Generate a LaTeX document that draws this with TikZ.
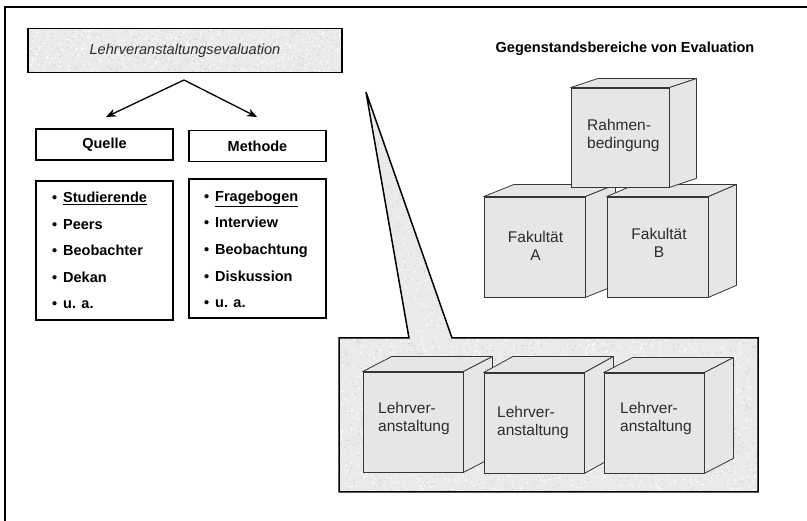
\documentclass[tikz,border=0pt]{standalone}
\usepackage{fontspec}
\setmainfont{Liberation Sans}
\usetikzlibrary{arrows.meta}

\definecolor{granite}{HTML}{EAEAEA}
\definecolor{speckdark}{HTML}{D0D0D0}
\definecolor{cubefill}{HTML}{E6E6E6}
\definecolor{cubeline}{HTML}{363636}
\definecolor{softtext}{HTML}{2C2C2C}

% granite-like mottling inside the current clip: x0, y0, width, height, count
\newcommand\speckles[5]{%
  \foreach \k in {1,...,#5}{%
    \fill[speckdark] ({#1+#3*rnd},{#2+#4*rnd}) circle (0.7);
    \fill[white] ({#1+#3*rnd},{#2+#4*rnd}) circle (0.9);
  }}

% top and right faces of a box whose front face is node #1, depth (#2,#3)
\newcommand\cubefaces[3]{%
  \filldraw[cubeside] (#1.north west) -- ([shift={(#2,#3)}]#1.north west)
    -- ([shift={(#2,#3)}]#1.north east) -- (#1.north east) -- cycle;
  \filldraw[cubeside] (#1.north east) -- ([shift={(#2,#3)}]#1.north east)
    -- ([shift={(#2,#3)}]#1.south east) -- (#1.south east) -- cycle;
}

\tikzset{
  frameline/.style={line width=2pt},
  boxline/.style={draw, line width=1.3pt},
  boldtext/.style={font=\fontsize{14.5}{16}\selectfont\bfseries},
  titlebox/.style={boxline, minimum width=314pt, minimum height=44pt, inner sep=0pt,
    text=softtext, font=\fontsize{14.6}{16}\selectfont\itshape},
  labelbox/.style={boxline, boldtext, minimum width=137pt, minimum height=31pt, inner sep=0pt},
  listbox/.style={boxline, minimum width=137pt, minimum height=139pt, inner sep=0pt},
  listitem/.style={boldtext, anchor=base west, inner sep=0pt},
  cubefront/.style={draw=cubeline, fill=cubefill, line width=0.8pt, inner sep=0pt},
  cubeside/.style={draw=cubeline, fill=cubefill, line width=0.8pt, line join=round},
  cubetext/.style={inner sep=0pt, text=softtext, font=\fontsize{15.5}{18}\selectfont},
  splitarrow/.style={line width=1.3pt, -{Stealth[length=10pt,width=8pt]}},
}

\begin{document}
\begin{tikzpicture}[x=1pt, y=-1pt]
\pgfmathsetseed{11}
\useasboundingbox (0,0) rectangle (807,521);

% frame
\draw[frameline] (4.5,521) -- (4.5,7.5) -- (807,7.5);

% title box
\begin{scope}
  \clip (28,28) rectangle (342,72);
  \fill[granite] (28,28) rectangle (342,72);
  \speckles{28}{28}{314}{44}{380}
\end{scope}
\node[titlebox] (eval) at (185,50.5) {Lehrveranstaltungsevaluation};

% split into source and method
\coordinate (fork) at (184,80);
\coordinate (qtip) at (106,117);
\coordinate (mtip) at (257,117);
\draw[splitarrow] (fork) -- (qtip);
\draw[splitarrow] (fork) -- (mtip);

\node[labelbox] (quelle) at (104.5,144.5) {Quelle};
\node[labelbox] (methode) at (257.5,146) {Methode};

\node[listbox] (qlist) at (104.5,250.5) {};
\node[listbox] (mlist) at (257.5,248.5) {};

\node[listitem] (q1) at (63,203)   {\llap{\textbullet\hspace{6pt}}\underline{Studierende}};
\node[listitem] (q2) at (63,229.5) {\llap{\textbullet\hspace{6pt}}Peers};
\node[listitem] (q3) at (63,256)   {\llap{\textbullet\hspace{6pt}}Beobachter};
\node[listitem] (q4) at (63,282.5) {\llap{\textbullet\hspace{6pt}}Dekan};
\node[listitem] (q5) at (63,309)   {\llap{\textbullet\hspace{6pt}}u. a.};

\node[listitem] (m1) at (215,202)   {\llap{\textbullet\hspace{6pt}}\underline{Fragebogen}};
\node[listitem] (m2) at (215,228)   {\llap{\textbullet\hspace{6pt}}Interview};
\node[listitem] (m3) at (215,255)   {\llap{\textbullet\hspace{6pt}}Beobachtung};
\node[listitem] (m4) at (215,281.5) {\llap{\textbullet\hspace{6pt}}Diskussion};
\node[listitem] (m5) at (215,308)   {\llap{\textbullet\hspace{6pt}}u. a.};

% callout with the course units
\def\calloutpath{(339,338) -- (409,338) -- (366,92) -- (452,338) -- (758,338)
  -- (758,492) -- (339,492) -- cycle}
\begin{scope}
  \clip \calloutpath;
  \fill[granite] \calloutpath;
  \speckles{339}{338}{419}{154}{1300}
  \speckles{366}{92}{86}{246}{230}
\end{scope}
\draw[line width=1.5pt, line join=miter] \calloutpath;

\node[cubefront, minimum width=100pt, minimum height=100pt] (lv1) at (413,422) {};
\cubefaces{lv1}{29}{-15}
\node[cubefront, minimum width=100pt, minimum height=100pt] (lv2) at (534,423) {};
\cubefaces{lv2}{29}{-16}
\node[cubefront, minimum width=100pt, minimum height=100pt] (lv3) at (654,423) {};
\cubefaces{lv3}{29}{-15}

\node[cubetext, align=left, anchor=west] (lv1t) at (378,418) {Lehrver-\\anstaltung};
\node[cubetext, align=left, anchor=west] (lv2t) at (497,422) {Lehrver-\\anstaltung};
\node[cubetext, align=left, anchor=west] (lv3t) at (620,418) {Lehrver-\\anstaltung};

% areas of evaluation
\node[boldtext, anchor=base] (heading) at (625,53) {Gegenstandsbereiche von Evaluation};

\node[cubefront, minimum width=101pt, minimum height=100pt] (faka) at (534.5,247) {};
\cubefaces{faka}{30}{-12}
\node[cubefront, minimum width=101pt, minimum height=100pt] (fakb) at (657.5,247) {};
\cubefaces{fakb}{28}{-12}
\node[cubefront, minimum width=98pt, minimum height=99pt] (rahmen) at (620,137.5) {};
\cubefaces{rahmen}{27}{-9}

\node[cubetext, align=left, anchor=west] (rahment) at (587,135) {Rahmen-\\bedingung};
\node[cubetext, align=center] (fakat) at (535.5,246) {Fakultät\\A};
\node[cubetext, align=center] (fakbt) at (659,243) {Fakultät\\B};
\end{tikzpicture}
\end{document}
